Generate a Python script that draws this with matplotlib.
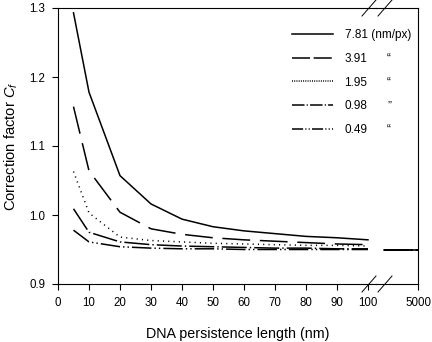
import matplotlib
matplotlib.use("Agg")
import matplotlib.pyplot as plt
from matplotlib.lines import Line2D

plt.rcParams['font.family'] = ['Liberation Sans', 'DejaVu Sans']
plt.rcParams['lines.scale_dashes'] = False
plt.rcParams['mathtext.fontset'] = 'custom'
plt.rcParams['mathtext.rm'] = 'Liberation Sans'
plt.rcParams['mathtext.it'] = 'Liberation Sans:italic'

# Persistence length (nm) and correction factor for each pixel size
persistence_nm = [5, 10, 20, 30, 40, 50, 60, 70, 80, 90, 100]
cf_781 = [1.293, 1.178, 1.057, 1.016, 0.994, 0.983, 0.977, 0.973, 0.969, 0.967, 0.964]
cf_391 = [1.157, 1.064, 1.004, 0.980, 0.972, 0.967, 0.964, 0.962, 0.960, 0.958, 0.957]
cf_195 = [1.063, 1.003, 0.968, 0.963, 0.961, 0.959, 0.958, 0.957, 0.956, 0.956, 0.955]
cf_098 = [1.009, 0.975, 0.961, 0.957, 0.955, 0.954, 0.953, 0.952, 0.952, 0.951, 0.951]
cf_049 = [0.978, 0.961, 0.954, 0.952, 0.951, 0.951, 0.950, 0.950, 0.950, 0.950, 0.950]

# Long persistence-length limit
persistence_long = [1000, 5000]
cf_limit = [0.949, 0.949, 0.949, 0.949, 0.949]

pixel_labels = ["7.81 (nm/px)", "3.91", "1.95", "0.98", "0.49"]
ditto_marks = ["\u201c", "\u201c", "\u201d", "\u201c"]
x_ticks = [0, 10, 20, 30, 40, 50, 60, 70, 80, 90, 100]
y_ticks = [0.9, 1.0, 1.1, 1.2, 1.3]

series = [cf_781, cf_391, cf_195, cf_098, cf_049]
curve_styles = [
    '-',
    (0, (20, 7)),
    (0, (0.8, 3.0)),
    (0, (18, 2.2, 1, 2.2)),
    (0, (14, 2.2, 1, 2.2, 1, 2.2)),
]
legend_styles = [
    '-',
    (0, (13, 2.6)),
    (0, (0.7, 0.9)),
    (0, (9, 1.6, 0.8, 1.6)),
    (0, (8, 1.6, 0.8, 1.6, 0.8, 1.6)),
]

W, H = 432, 342
fig = plt.figure(figsize=(W / 100, H / 100), dpi=100)
fig.patch.set_facecolor('white')

left, right, top, bottom = 58, 418, 8, 284
split = 375.75
ax1 = fig.add_axes([left / W, 1 - bottom / H, (split - left) / W, (bottom - top) / H])
ax2 = fig.add_axes([split / W, 1 - bottom / H, (right - split) / W, (bottom - top) / H],
                   sharey=ax1)
ax2.patch.set_visible(False)

lw = 1.1
for ys, ls in zip(series, curve_styles):
    ax1.plot(persistence_nm, ys, color='black', lw=lw, linestyle=ls)
for lim, ls in zip(cf_limit, curve_styles):
    ax2.plot(persistence_long, [lim, lim], color='black', lw=lw, linestyle=ls)

ax1.set_xlim(0, 102.5)
ax2.set_xlim(0, 5000)
ax1.set_ylim(0.9, 1.3)

ax1.set_xticks(x_ticks)
ax1.set_xticklabels([str(t) for t in x_ticks])
ax1.set_yticks(y_ticks)
ax1.set_yticklabels([f"{t:.1f}" for t in y_ticks])
ax2.set_xticks([5000])
ax2.set_xticklabels(["5000"])
ax2.tick_params(axis='y', left=False, labelleft=False)

for ax in (ax1, ax2):
    ax.tick_params(direction='out', length=4, width=0.8, color='black',
                   labelsize=8.3, labelcolor='black')
    ax.tick_params(axis='x', pad=5.5)
    for s in ax.spines.values():
        s.set_linewidth(0.8)
        s.set_color('black')
ax1.tick_params(axis='y', pad=5)
ax1.spines['right'].set_visible(False)
ax2.spines['left'].set_visible(False)

ax1.set_ylabel("Correction factor $\\mathit{C_f}$", fontsize=10.6, labelpad=7)
fig.text((left + right) / 2 / W, 1 - 334 / H, "DNA persistence length (nm)",
         ha='center', va='center', fontsize=10.3)

# axis break marks
for cx in (369, 385):
    for cy in (top, bottom):
        fig.add_artist(Line2D([(cx - 7) / W, (cx + 7) / W],
                              [1 - (cy + 8) / H, 1 - (cy - 8) / H],
                              color='black', lw=0.7, transform=fig.transFigure))

handles = [Line2D([], [], color='black', lw=lw, linestyle=ls) for ls in legend_styles]
leg = fig.legend(handles, pixel_labels, loc='upper left',
                 bbox_to_anchor=(292 / W, 1 - 29 / H), bbox_transform=fig.transFigure,
                 frameon=False, fontsize=8.5, handlelength=3.5, handletextpad=0.95,
                 labelspacing=1.0, borderpad=0, borderaxespad=0)

# ditto marks beside the lower legend rows, aligned with each label
fig.canvas.draw()
inv = fig.transFigure.inverted()
for txt, mark in zip(leg.get_texts()[1:], ditto_marks):
    bb = txt.get_window_extent()
    yc = inv.transform((0, (bb.y0 + bb.y1) / 2))[1]
    fig.text(389 / W, yc, mark, ha='center', va='center', fontsize=8.5)

fig.savefig("out.png", dpi=100, facecolor='white')
